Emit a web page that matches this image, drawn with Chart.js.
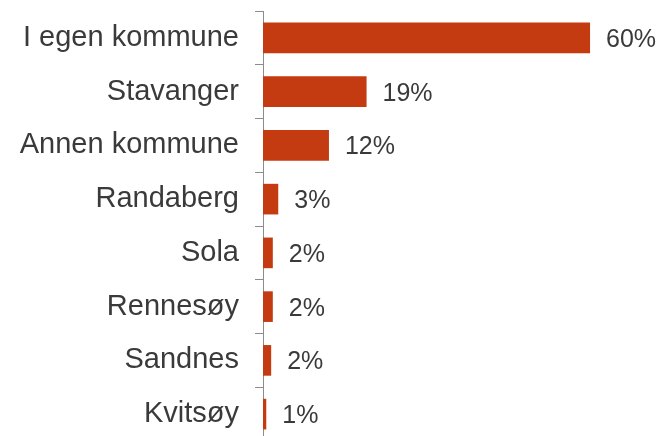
<!DOCTYPE html>
<html>
<head>
<meta charset="utf-8">
<script src="https://cdn.jsdelivr.net/npm/chart.js@4"></script>
<style>
  html, body { margin: 0; padding: 0; background: #fff; overflow: hidden; }
  #wrap { width: 662px; height: 446px; }
</style>
</head>
<body>
<div id="wrap"><canvas id="chart"></canvas></div>
<script>
// Kommuner og andeler (lest av bildet)
const categories = ["I egen kommune", "Stavanger", "Annen kommune", "Randaberg", "Sola", "Rennesøy", "Sandnes", "Kvitsøy"];
const shares = [60, 19, 12.1, 2.8, 1.8, 1.8, 1.5, 0.6];
const shareLabels = ["60%", "19%", "12%", "3%", "2%", "2%", "2%", "1%"];

const barColor = "#C43B12";
const textColor = "#3a3a3a";

// Tegner prosenttallene til høyre for hver stolpe
const valueLabels = {
    id: "valueLabels",
    afterDatasetsDraw(chart) {
        const ctx = chart.ctx;
        const meta = chart.getDatasetMeta(0);
        ctx.save();
        ctx.font = "25px 'Liberation Sans', Arial, sans-serif";
        ctx.fillStyle = textColor;
        ctx.textAlign = "left";
        ctx.textBaseline = "middle";
        meta.data.forEach((bar, i) => {
            ctx.fillText(shareLabels[i], bar.x + 16, bar.y + 2);
        });
        ctx.restore();
    }
};

const ctx = document.getElementById("chart").getContext("2d");
const chart = new Chart(ctx, {
    type: "bar",
    data: {
        labels: categories,
        datasets: [
            {
                data: shares,
                backgroundColor: barColor,
                barPercentage: 0.57,
                categoryPercentage: 1,
            },
        ],
    },
    options: {
        indexAxis: "y",
        responsive: true,
        maintainAspectRatio: false,
        animation: false,
        layout: { padding: { top: 11, bottom: 5, left: 0, right: 0 } },
        plugins: {
            legend: { display: false },
            tooltip: { enabled: false },
        },
        scales: {
            x: {
                display: false,
                min: 0,
                max: 73.2,
            },
            y: {
                afterFit(scale) {
                    scale.width = 263;
                    scale.paddingTop = 0;
                    scale.paddingBottom = 0;
                },
                grid: {
                    offset: true,
                    drawOnChartArea: false,
                    tickLength: 8,
                    color: "#8c8c8c",
                },
                border: { color: "#8c8c8c", width: 1 },
                ticks: {
                    color: textColor,
                    padding: 16,
                    font: { family: "'Liberation Sans', Arial, sans-serif", size: 29 },
                },
            },
        },
    },
    plugins: [valueLabels],
});
</script>
</body>
</html>
